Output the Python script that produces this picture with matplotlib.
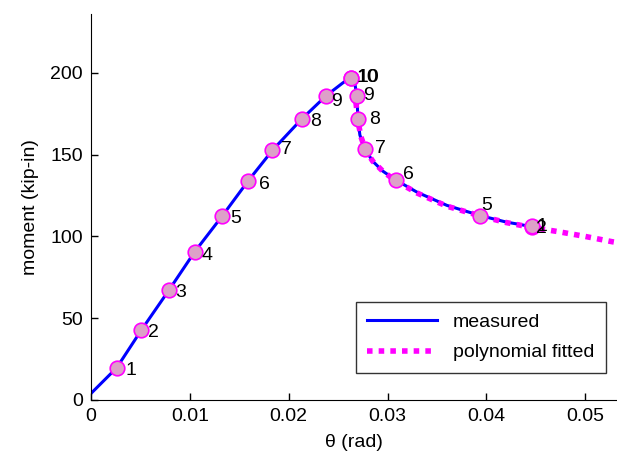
import numpy as np
import matplotlib
matplotlib.use('Agg')
import matplotlib.pyplot as plt

plt.rcParams['font.family'] = ['Liberation Sans', 'DejaVu Sans']

# measured curve (theta in rad, moment in kip-in)
meas_theta = [0.0, 0.0026, 0.0051, 0.0079, 0.0105, 0.0133, 0.0159, 0.0184, 0.0213, 0.0238,
              0.0255, 0.0263, 0.0267, 0.0269, 0.0270, 0.0272, 0.0277, 0.0285, 0.0295, 0.0308,
              0.0330, 0.0360, 0.0394, 0.0420, 0.0446]
meas_m = [4, 19.7, 42.8, 67.3, 90.7, 112.7, 134, 153, 171.7, 186.1,
          194, 197.1, 193, 186.1, 171.7, 162, 153.5, 146, 140, 134.6,
          127, 119, 112.7, 108.8, 106]

# polynomial fit of the descending branch
fit_theta = [0.0264, 0.0266, 0.0268, 0.0270, 0.0273, 0.0278, 0.0285, 0.0295, 0.0308, 0.0330,
             0.0360, 0.0394, 0.0420, 0.0446, 0.0472, 0.0500, 0.0527, 0.0545]
fit_m = [196, 191, 182, 171, 161, 152.5, 146, 140, 134, 126.5,
         118.5, 112.5, 108.5, 105.5, 103, 100, 96.8, 95]

# labelled points
asc_theta = [0.0026, 0.0051, 0.00786, 0.0105, 0.01326, 0.0159, 0.01836, 0.0213, 0.02376, 0.02629]
asc_m = [19.7, 42.8, 67.3, 90.7, 112.7, 134, 152.9, 171.7, 186.1, 197.1]
asc_lab = ['1', '2', '3', '4', '5', '6', '7', '8', '9', '10']

desc_theta = [0.02635, 0.02686, 0.02702, 0.0277, 0.03083, 0.03937, 0.04464, 0.04466]
desc_m = [197.1, 186.1, 171.7, 153.5, 134.6, 112.7, 106, 106.3]
desc_lab = ['10', '9', '8', '7', '6', '5', '2', '1']

fig = plt.figure(figsize=(6.17, 4.68), dpi=100)
ax = fig.add_axes([91/617, 68/468, 526/617, 386/468])

ax.plot(meas_theta, meas_m, color='#0000ff', lw=2.2, label='measured', zorder=2)
ax.plot(fit_theta, fit_m, color='#ff00ff', lw=4.0, ls=(0, (1, 1.1)),
        dash_capstyle='butt', label='polynomial fitted', zorder=3)

mk = dict(marker='o', ls='none', ms=10.5, mfc='#dda0c8', mec='#ff00ff', mew=1.2, zorder=4)
ax.plot(asc_theta, asc_m, **mk)
ax.plot(desc_theta, desc_m, **mk)

asc_off = [(6, -2), (5, -2), (5, -2), (5, -3), (6, -2), (8, -3), (6, 0), (6, -2), (4, -4), (4, 0)]
desc_off = [(4.5, 0), (5, 0), (8, 0), (7, 0), (5, 4), (1, 7), (3, -1), (3, 0)]
for x, y, s, o in zip(asc_theta, asc_m, asc_lab, asc_off):
    ax.annotate(s, (x, y), xytext=o, textcoords='offset points', ha='left', va='center',
                fontsize=14, zorder=5)
for x, y, s, o in zip(desc_theta, desc_m, desc_lab, desc_off):
    ax.annotate(s, (x, y), xytext=o, textcoords='offset points', ha='left', va='center',
                fontsize=14, zorder=5)

ax.set_xlim(0, 0.05321)
ax.set_ylim(0, 236)
ax.set_xticks([0, 0.01, 0.02, 0.03, 0.04, 0.05])
ax.set_xticklabels(['0', '0.01', '0.02', '0.03', '0.04', '0.05'])
ax.set_yticks([0, 50, 100, 150, 200])
ax.tick_params(direction='in', length=5, width=1, labelsize=14, pad=6)
ax.spines['top'].set_visible(False)
ax.spines['right'].set_visible(False)
ax.set_xlabel('θ (rad)', fontsize=14, labelpad=6)
ax.set_ylabel('moment (kip-in)', fontsize=14, labelpad=8)

leg = ax.legend(loc='lower right', bbox_to_anchor=(0.979, 0.07), borderaxespad=0,
                fontsize=14, handlelength=3.6, handletextpad=0.8,
                frameon=True, fancybox=False, edgecolor='black',
                borderpad=0.6, labelspacing=0.65)
leg.get_frame().set_linewidth(1.0)

fig.savefig('out.png', dpi=100)
